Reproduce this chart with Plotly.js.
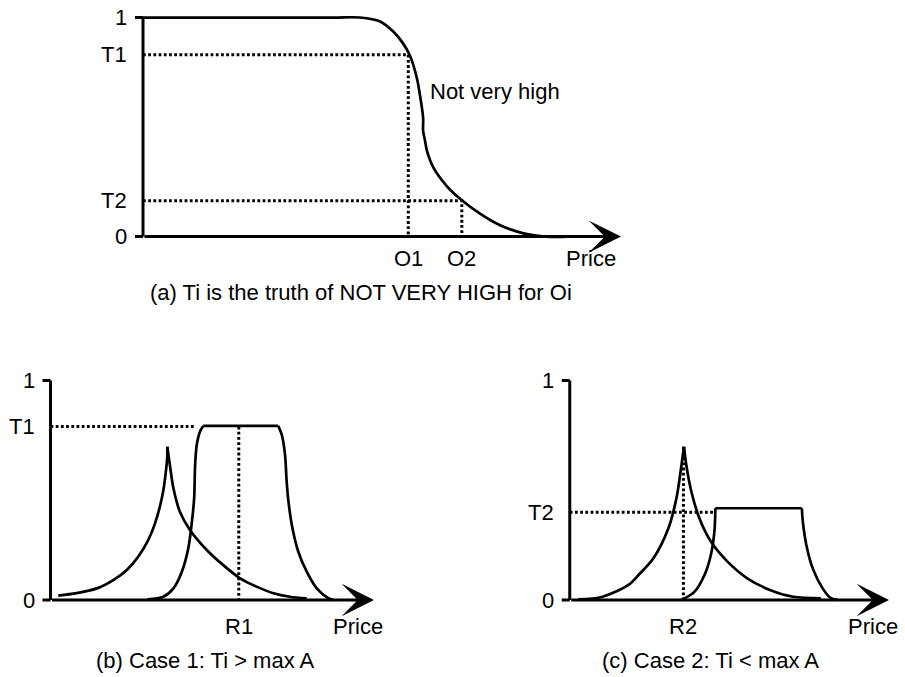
<!DOCTYPE html>
<html><head><meta charset="utf-8">
<script src="https://cdn.plot.ly/plotly-3.0.1.min.js"></script>
<style>html,body{margin:0;padding:0;background:#fff}</style>
</head><body><div id="chart" style="width:905px;height:677px"></div>
<script>
// ---------- Panel (a): NOT VERY HIGH membership curve ----------
const aCurveX = [0, 20, 40, 45.4, 49.6, 52.3, 54.4, 55.9, 57.3, 57.9, 58.6, 58.6, 59.0, 59.4, 60.7, 63.5, 66.7, 70.5, 74.7, 79.6, 84.5, 88.9];
const aCurveY = [1, 1, 1, 1, 0.982, 0.937, 0.882, 0.823, 0.723, 0.651, 0.542, 0.483, 0.438, 0.392, 0.317, 0.232, 0.166, 0.105, 0.052, 0.015, 0, 0];
const aTruthVals = [0.83, 0.164];          // T1, T2
const aTruthLabels = ['T1', 'T2'];
const aObjVals = [55.5, 66.7];             // O1, O2
const aObjLabels = ['O1', 'O2'];
const aCurveLabel = 'Not very high';
const aCurveLabelPos = [59.6, 0.664];

// ---------- Panel (b): Case 1 ----------
const bPeakLeftX  = [2.4, 8.1, 14.3, 19.4, 23.6, 27.1, 30.2, 32.3, 33.8, 34.9, 35.6, 36.1, 36.1];
const bPeakLeftY  = [0.02, 0.031, 0.053, 0.091, 0.137, 0.197, 0.273, 0.349, 0.425, 0.501, 0.577, 0.653, 0.698];
const bPeakRightX = [36.1, 36.9, 38.0, 40.0, 43.1, 48.3, 53.4, 58.6, 63.7, 68.9, 74.0, 79.2];
const bPeakRightY = [0.698, 0.615, 0.509, 0.402, 0.319, 0.228, 0.159, 0.099, 0.061, 0.031, 0.015, 0.008];
const bPlatRiseX  = [30.0, 34.9, 38.0, 40.6, 42.6, 43.6, 44.4, 44.7, 45.2, 46.2, 47.2];
const bPlatRiseY  = [0.003, 0.015, 0.053, 0.129, 0.236, 0.342, 0.463, 0.615, 0.706, 0.767, 0.793];
const bPlatTopX   = [47.2, 70.4];
const bPlatTopY   = [0.793, 0.793];
const bPlatFallX  = [70.4, 71.5, 72.5, 73.0, 73.5, 74.6, 76.6, 79.2, 82.3, 85.9, 87.4];
const bPlatFallY  = [0.793, 0.752, 0.661, 0.539, 0.456, 0.342, 0.22, 0.129, 0.053, 0.008, 0];
const bTruth = 0.79, bTruthEnd = 44.9, bTruthLabel = 'T1';
const bR = 58.2, bRLabel = 'R1';

// ---------- Panel (c): Case 2 ----------
const cPeakLeftX  = [2.6, 10.3, 18.5, 21.6, 26.2, 30.9, 33.4, 35.0, 35.8];
const cPeakLeftY  = [0.003, 0.015, 0.07, 0.115, 0.19, 0.327, 0.463, 0.615, 0.698];
const cPeakRightX = [35.8, 36.5, 38.1, 40.6, 44.2, 49.4, 55.6, 62.7, 70.0, 78.7];
const cPeakRightY = [0.698, 0.615, 0.493, 0.372, 0.266, 0.175, 0.099, 0.046, 0.015, 0.008];
const cPlatRiseX  = [35.0, 39.1, 42.2, 44.2, 45.3, 45.6];
const cPlatRiseY  = [0, 0.038, 0.114, 0.205, 0.311, 0.418];
const cPlatTopX   = [45.6, 72.7];
const cPlatTopY   = [0.418, 0.418];
const cPlatFallX  = [72.7, 73.0, 74.1, 76.1, 79.2, 81.8, 84.0];
const cPlatFallY  = [0.418, 0.357, 0.251, 0.144, 0.053, 0.008, 0];
const cTruth = 0.4, cTruthEnd = 45.2, cTruthLabel = 'T2';
const cR = 35.6, cRLabel = 'R2', cPeakTop = 0.698;

const captions = ['(a) Ti is the truth of NOT VERY HIGH for Oi', '(b) Case 1: Ti > max A', '(c) Case 2: Ti < max A'];
const axisName = 'Price';

// ---------- layout helpers ----------
const W = 905, H = 677;
const FONT = {family: '"Liberation Sans", Arial, Helvetica, sans-serif', size: 22, color: '#000'};
const XR = [-5, 105], YR = [-0.08, 1.08];
// pixel position of data 0 and 100 (x), 0 and 1 (y) per panel
const P = {
  a: {sfx: '',  px: [143, 621],   py: [236.5, 16],  xlabShift: -22, price: 93.7, cap: [361, 292]},
  b: {sfx: '2', px: [50.5, 374],  py: [600, 380.5], xlabShift: -26, price: 95,   cap: [205, 660]},
  c: {sfx: '3', px: [570, 894],   py: [600, 380.5], xlabShift: -26, price: 95,   cap: [710, 660]}
};
function xdom(p) { const f = v => p.px[0] + v / 100 * (p.px[1] - p.px[0]); return [f(XR[0]) / W, f(XR[1]) / W]; }
function ydom(p) { const f = v => p.py[0] + v * (p.py[1] - p.py[0]); return [1 - f(YR[0]) / H, 1 - f(YR[1]) / H]; }

const traces = [];
function curve(x, y, p, shape) {
  traces.push({type: 'scatter', mode: 'lines', x: x, y: y, xaxis: 'x' + p.sfx, yaxis: 'y' + p.sfx,
    line: {color: '#000', width: 2.7, shape: shape || 'spline', smoothing: 0.9}, hoverinfo: 'skip'});
}
function dotted(x, y, p) {
  traces.push({type: 'scatter', mode: 'lines', x: x, y: y, xaxis: 'x' + p.sfx, yaxis: 'y' + p.sfx,
    line: {color: '#000', width: 3, dash: '2.8px,2.4px'}, hoverinfo: 'skip'});
}

// panel a
curve(aCurveX, aCurveY, P.a);
aTruthVals.forEach((t, i) => dotted([0, aObjVals[i], aObjVals[i]], [t, t, 0], P.a));
// panel b
curve(bPeakLeftX, bPeakLeftY, P.b); curve(bPeakRightX, bPeakRightY, P.b);
curve(bPlatRiseX, bPlatRiseY, P.b); curve(bPlatTopX, bPlatTopY, P.b, 'linear'); curve(bPlatFallX, bPlatFallY, P.b);
dotted([0, bTruthEnd], [bTruth, bTruth], P.b);
dotted([bR, bR], [bTruth, 0], P.b);
// panel c
curve(cPeakLeftX, cPeakLeftY, P.c); curve(cPeakRightX, cPeakRightY, P.c);
curve(cPlatRiseX, cPlatRiseY, P.c); curve(cPlatTopX, cPlatTopY, P.c, 'linear'); curve(cPlatFallX, cPlatFallY, P.c);
dotted([0, cTruthEnd], [cTruth, cTruth], P.c);
dotted([cR, cR], [cPeakTop, 0], P.c);

const layout = {width: W, height: H, margin: {l: 0, r: 0, t: 0, b: 0}, paper_bgcolor: '#fff', plot_bgcolor: 'rgba(0,0,0,0)',
  showlegend: false, font: FONT, shapes: [], annotations: []};

Object.values(P).forEach((p, idx) => {
  const xk = 'xaxis' + p.sfx, yk = 'yaxis' + p.sfx, xr = 'x' + p.sfx, yr = 'y' + p.sfx;
  layout[xk] = {domain: xdom(p), range: XR, visible: false, fixedrange: true, anchor: yr};
  layout[yk] = {domain: ydom(p), range: YR, visible: false, fixedrange: true, anchor: xr};
  // y axis line + ticks at 0 and 1
  layout.shapes.push({type: 'line', xref: xr, yref: yr, x0: 0, x1: 0, y0: 0, y1: 1, line: {color: '#000', width: 3}});
  [0, 1].forEach(v => layout.shapes.push({type: 'line', xref: xr, yref: yr, xsizemode: 'pixel', xanchor: 0,
    x0: -8, x1: 0, y0: v, y1: v, line: {color: '#000', width: 3}}));
  // x axis arrow
  layout.annotations.push({xref: xr, yref: yr, axref: xr, ayref: yr, x: 100, y: 0, ax: 0, ay: 0, text: '',
    showarrow: true, arrowhead: 3, arrowsize: 1.8, arrowwidth: 3, arrowcolor: '#000', standoff: 0, startstandoff: 0});
  // Price label
  layout.annotations.push({xref: xr, yref: yr, x: p.price, y: 0, yshift: p.xlabShift, text: axisName, showarrow: false,
    xanchor: 'center', yanchor: 'middle', font: FONT});
  // caption
  layout.annotations.push({xref: 'paper', yref: 'paper', x: p.cap[0] / W, y: 1 - p.cap[1] / H, text: captions[idx],
    showarrow: false, xanchor: 'center', yanchor: 'middle', font: FONT});
});

function ylab(p, v, t) {
  layout.annotations.push({xref: 'x' + p.sfx, yref: 'y' + p.sfx, x: 0, y: v, xshift: -14, text: t, showarrow: false,
    xanchor: 'right', yanchor: 'middle', font: FONT});
}
function xlab(p, v, t) {
  layout.annotations.push({xref: 'x' + p.sfx, yref: 'y' + p.sfx, x: v, y: 0, yshift: p.xlabShift, text: t, showarrow: false,
    xanchor: 'center', yanchor: 'middle', font: FONT});
}
ylab(P.a, 1, '1'); ylab(P.a, 0, '0');
aTruthVals.forEach((t, i) => ylab(P.a, t, aTruthLabels[i]));
aObjVals.forEach((o, i) => xlab(P.a, o, aObjLabels[i]));
layout.annotations.push({xref: 'x', yref: 'y', x: aCurveLabelPos[0], y: aCurveLabelPos[1], text: aCurveLabel,
  showarrow: false, xanchor: 'left', yanchor: 'middle', font: FONT});

ylab(P.b, 1, '1'); ylab(P.b, 0, '0'); ylab(P.b, bTruth, bTruthLabel); xlab(P.b, bR, bRLabel);
ylab(P.c, 1, '1'); ylab(P.c, 0, '0'); ylab(P.c, cTruth, cTruthLabel); xlab(P.c, cR, cRLabel);

Plotly.newPlot('chart', traces, layout, {staticPlot: true, displayModeBar: false});
</script></body></html>
